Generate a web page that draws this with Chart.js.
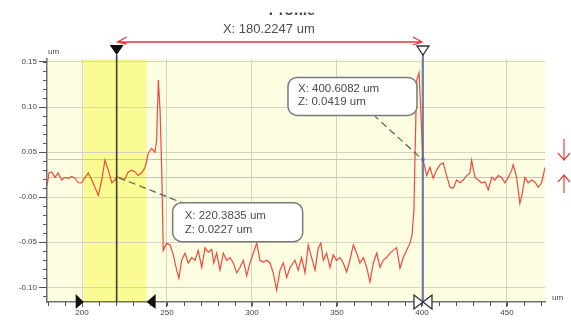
<!DOCTYPE html>
<html>
<head>
<meta charset="utf-8">
<script src="https://cdn.jsdelivr.net/npm/chart.js@4/dist/chart.umd.min.js"></script>
<style>
  html, body { margin: 0; padding: 0; background: #fff; }
  #wrap { width: 571px; height: 320px; }
</style>
</head>
<body>
<div id="wrap"><canvas id="profil" width="571" height="320"></canvas></div>
<script>
// posição lateral (um) e altura (um)
const posX = [179.5, 180.5, 182.2, 184.1, 185.9, 188.1, 190, 191.9, 193.9, 195.9, 197.8, 199.8,
  201.8, 203.7, 205.7, 207.6, 209.6, 211.6, 213.5, 215.5, 217.5, 219.4, 220.4, 222.9, 224.9,
  227.2, 229.2, 231.2, 233.1, 235.1, 237.1, 239, 241, 242.9, 243.9, 244.9, 245.9, 246.9,
  247.8, 249.8, 251.8, 253.7, 255.7, 257, 258.6, 260.6, 262.5, 264.5, 266.5, 268.4, 270.4,
  272.4, 274.3, 276.3, 277.5, 279.2, 281.2, 283.1, 285.1, 287.1, 289, 291, 292.9, 294.9,
  296.9, 298.8, 300.8, 302.8, 304.7, 306.6, 308.6, 310.6, 312.5, 314.5, 316.5, 318.4, 320.4,
  322.4, 325.3, 327.2, 329.2, 331.2, 333.1, 335.1, 337.1, 339, 340.5, 342, 343.9, 345.9,
  347.8, 349.8, 351.8, 353.7, 355.7, 357.6, 359.6, 361.6, 363.5, 365.5, 367.5, 369.4, 371.4,
  373.4, 375.3, 377.2, 379.2, 381.2, 383.1, 385.1, 387.1, 389, 391, 392.9, 394.1, 395.3,
  395.9, 396.9, 398.3, 400.6, 402.8, 404.7, 406.6, 408.6, 410.6, 412.5, 414.5, 416.5, 418.4,
  420.4, 422.4, 424.3, 426.3, 428.2, 429.2, 431.2, 433.1, 435.1, 437.1, 439, 441, 442.9,
  444.9, 446.9, 448.8, 450.8, 452.8, 453.7, 455.7, 457.6, 458.6, 460.6, 462.5, 464.5, 466.5,
  468.4, 470.4, 472.4];
const altZ = [0.013, 0.027, 0.028, 0.022, 0.027, 0.019, 0.022, 0.021, 0.023, 0.021, 0.016, 0.016,
  0.022, 0.027, 0.019, 0.011, 0.002, 0.019, 0.041, 0.030, 0.016, 0.019, 0.0227, 0.021, 0.019,
  0.028, 0.030, 0.028, 0.024, 0.027, 0.033, 0.049, 0.054, 0.050, 0.063, 0.130, 0.097, 0.030,
  -0.059, -0.051, -0.053, -0.064, -0.081, -0.090, -0.070, -0.062, -0.073, -0.067, -0.070, -0.059, -0.078,
  -0.056, -0.061, -0.058, -0.073, -0.062, -0.081, -0.062, -0.070, -0.067, -0.073, -0.084, -0.078, -0.070,
  -0.087, -0.073, -0.062, -0.051, -0.070, -0.072, -0.070, -0.073, -0.084, -0.103, -0.081, -0.073, -0.089,
  -0.078, -0.070, -0.081, -0.067, -0.084, -0.053, -0.067, -0.081, -0.056, -0.051, -0.070, -0.062, -0.078,
  -0.064, -0.070, -0.067, -0.073, -0.083, -0.070, -0.053, -0.062, -0.073, -0.067, -0.078, -0.094, -0.073,
  -0.062, -0.078, -0.070, -0.067, -0.062, -0.059, -0.056, -0.079, -0.067, -0.059, -0.051, -0.043, -0.014,
  0.044, 0.130, 0.138, 0.0419, 0.024, 0.033, 0.021, 0.030, 0.036, 0.038, 0.024, 0.011, 0.010,
  0.019, 0.016, 0.019, 0.024, 0.027, 0.041, 0.022, 0.019, 0.016, 0.017, 0.008, 0.022, 0.019,
  0.024, 0.022, 0.016, 0.022, 0.030, 0.036, 0.022, -0.007, 0.000, 0.022, 0.016, 0.019, 0.017,
  0.011, 0.016, 0.033];

// eixos
const xTicks = [200, 250, 300, 350, 400, 450];
const yTicks = [0.15, 0.10, 0.05, 0, -0.05, -0.10];
const yTickLabels = ['0.15', '0.10', '0.05', '-0.00', '-0.05', '-0.10'];

// cursores e faixa destacada
const cursorX = [220.3835, 400.6082];
const cursorZ = [0.0227, 0.0419];
const distanciaX = '180.2247';
const faixa = [201, 238];

const corLinha = '#f04a3c';
const corGrade = '#d4d4c0';
const corFundo = '#fdfde2';
const corFaixa = '#fbfb93';
const fonte = '"Liberation Sans", Arial, sans-serif';

const fundoPlugin = {
    id: 'fundo',
    beforeDraw(chart) {
        const { ctx, chartArea: a, scales: { x } } = chart;
        ctx.save();
        ctx.fillStyle = corFundo;
        ctx.fillRect(a.left, a.top, a.right - a.left, a.bottom - a.top);
        ctx.fillStyle = corFaixa;
        const f0 = x.getPixelForValue(faixa[0]);
        const f1 = x.getPixelForValue(faixa[1]);
        ctx.fillRect(f0, a.top, f1 - f0, a.bottom - a.top);
        ctx.restore();
    },
    beforeDatasetsDraw(chart) {
        const { ctx, chartArea: a, scales: { y } } = chart;
        ctx.save();
        ctx.strokeStyle = '#c4c4b4';
        ctx.lineWidth = 1;
        cursorZ.forEach(z => {
            const py = Math.round(y.getPixelForValue(z)) + 0.5;
            ctx.beginPath();
            ctx.moveTo(a.left, py);
            ctx.lineTo(a.right, py);
            ctx.stroke();
        });
        ctx.restore();
    }
};

function triangulo(ctx, pts, cheio) {
    ctx.beginPath();
    ctx.moveTo(pts[0][0], pts[0][1]);
    for (let i = 1; i < pts.length; i++) ctx.lineTo(pts[i][0], pts[i][1]);
    ctx.closePath();
    if (cheio) { ctx.fillStyle = '#111'; ctx.fill(); }
    else { ctx.fillStyle = '#fff'; ctx.fill(); ctx.strokeStyle = '#333'; ctx.lineWidth = 1.3; ctx.stroke(); }
}

function caixa(ctx, x, y, w, h, r) {
    ctx.beginPath();
    ctx.moveTo(x + r, y);
    ctx.arcTo(x + w, y, x + w, y + h, r);
    ctx.arcTo(x + w, y + h, x, y + h, r);
    ctx.arcTo(x, y + h, x, y, r);
    ctx.arcTo(x, y, x + w, y, r);
    ctx.closePath();
    ctx.fillStyle = '#fff';
    ctx.fill();
    ctx.strokeStyle = '#7a7a7a';
    ctx.lineWidth = 1.5;
    ctx.stroke();
}

const anotacoesPlugin = {
    id: 'anotacoes',
    afterDraw(chart) {
        const { ctx, chartArea: a, scales: { x, y } } = chart;
        ctx.save();

        // ticks menores
        ctx.strokeStyle = '#555';
        ctx.lineWidth = 1;
        for (let v = -11; v <= 15; v++) {
            const py = Math.round(y.getPixelForValue(v / 100)) + 0.5;
            ctx.beginPath();
            ctx.moveTo(a.left - 4, py);
            ctx.lineTo(a.left, py);
            ctx.stroke();
        }
        for (let v = 180; v <= 470; v += 10) {
            const px = Math.round(x.getPixelForValue(v)) + 0.5;
            ctx.beginPath();
            ctx.moveTo(px, a.bottom);
            ctx.lineTo(px, a.bottom + 4);
            ctx.stroke();
        }

        // cursores
        const c1 = x.getPixelForValue(cursorX[0]);
        const c2 = x.getPixelForValue(cursorX[1]);
        ctx.lineWidth = 1.6;
        ctx.strokeStyle = '#3c3c3c';
        ctx.beginPath(); ctx.moveTo(c1, a.top - 4); ctx.lineTo(c1, a.bottom); ctx.stroke();
        ctx.strokeStyle = '#5464a4';
        ctx.beginPath(); ctx.moveTo(c2, a.top - 4); ctx.lineTo(c2, a.bottom); ctx.stroke();

        // triângulos de cima
        triangulo(ctx, [[c1 - 7, 45], [c1 + 7, 45], [c1, 55]], true);
        triangulo(ctx, [[c2 - 6, 46], [c2 + 6, 46], [c2, 55]], false);

        // triângulos de baixo (faixa e cursor 2)
        const f0 = x.getPixelForValue(faixa[0]);
        const f1 = x.getPixelForValue(faixa[1]);
        triangulo(ctx, [[f0 - 8, a.bottom - 8], [f0 - 8, a.bottom + 7], [f0, a.bottom]], true);
        triangulo(ctx, [[f1 + 9, a.bottom - 8], [f1 + 9, a.bottom + 7], [f1, a.bottom]], true);
        triangulo(ctx, [[c2 - 9, a.bottom - 7], [c2 - 9, a.bottom + 7], [c2, a.bottom]], false);
        triangulo(ctx, [[c2 + 9, a.bottom - 7], [c2 + 9, a.bottom + 7], [c2, a.bottom]], false);

        // seta de distância
        ctx.strokeStyle = '#e23a36';
        ctx.lineWidth = 1.3;
        ctx.beginPath();
        ctx.moveTo(c1 + 1, 42); ctx.lineTo(c2 - 1, 42);
        ctx.moveTo(c1 + 10, 37); ctx.lineTo(c1 + 1, 42); ctx.lineTo(c1 + 10, 44);
        ctx.moveTo(c2 - 10, 37); ctx.lineTo(c2 - 1, 42); ctx.lineTo(c2 - 10, 45);
        ctx.stroke();

        ctx.fillStyle = '#4c4c4c';
        ctx.font = '13px ' + fonte;
        ctx.textAlign = 'center';
        ctx.textBaseline = 'middle';
        ctx.fillText('X: ' + distanciaX + ' um', (c1 + c2) / 2 - 1, 29);

        // título cortado no topo
        ctx.save();
        ctx.beginPath(); ctx.rect(0, 12.5, 571, 3); ctx.clip();
        ctx.font = 'bold 15px ' + fonte;
        ctx.fillStyle = '#444';
        ctx.textBaseline = 'alphabetic';
        ctx.fillText('Profile', 292, 15);
        ctx.restore();

        // linhas tracejadas das etiquetas
        const p1 = [c1, y.getPixelForValue(cursorZ[0])];
        const p2 = [c2, y.getPixelForValue(cursorZ[1])];
        ctx.setLineDash([7, 4]);
        ctx.strokeStyle = '#56604e';
        ctx.lineWidth = 1.2;
        ctx.beginPath();
        ctx.moveTo(p1[0] + 2, p1[1] + 1); ctx.lineTo(p1[0] + 68, p1[1] + 27);
        ctx.moveTo(p2[0] - 4, p2[1] - 3); ctx.lineTo(p2[0] - 48, p2[1] - 43);
        ctx.stroke();
        ctx.setLineDash([]);

        // etiquetas
        caixa(ctx, p2[0] - 135, p2[1] - 82, 129, 38, 9);
        caixa(ctx, p1[0] + 56, p1[1] + 26, 130, 39, 9);
        ctx.fillStyle = '#4a4a4a';
        ctx.font = '11.5px ' + fonte;
        ctx.textAlign = 'left';
        ctx.fillText('X: ' + cursorX[1].toFixed(4) + ' um', p2[0] - 125, p2[1] - 71);
        ctx.fillText('Z: ' + cursorZ[1].toFixed(4) + ' um', p2[0] - 125, p2[1] - 58);
        ctx.fillText('X: ' + cursorX[0].toFixed(4) + ' um', p1[0] + 68, p1[1] + 39);
        ctx.fillText('Z: ' + cursorZ[0].toFixed(4) + ' um', p1[0] + 68, p1[1] + 53);

        // marcador do ponto do cursor 2
        ctx.fillStyle = '#5464a4';
        ctx.fillRect(p2[0] - 1.5, p2[1] - 1.5, 3, 3);

        // unidades
        ctx.fillStyle = '#444';
        ctx.font = '8px ' + fonte;
        ctx.fillText('um', a.left + 1, a.top - 7);
        ctx.fillText('um', a.right + 7, a.bottom - 4);

        // setas vermelhas à direita
        ctx.strokeStyle = '#e2463e';
        ctx.lineWidth = 1.2;
        ctx.beginPath();
        ctx.moveTo(564, 139); ctx.lineTo(564, 160);
        ctx.moveTo(558, 153); ctx.lineTo(564, 160); ctx.lineTo(570, 153);
        ctx.moveTo(564, 193); ctx.lineTo(564, 175);
        ctx.moveTo(558, 182); ctx.lineTo(564, 175); ctx.lineTo(570, 182);
        ctx.stroke();

        ctx.restore();
    }
};

new Chart(document.getElementById('profil'), {
    type: 'line',
    data: {
        datasets: [{
            data: posX.map((v, i) => ({ x: v, y: altZ[i] })),
            borderColor: corLinha,
            borderWidth: 1.2,
            pointRadius: 0,
            tension: 0
        }]
    },
    options: {
        responsive: false,
        animation: false,
        events: [],
        layout: { padding: { top: 59, right: 26, left: 0, bottom: 0 } },
        plugins: { legend: { display: false }, tooltip: { enabled: false } },
        scales: {
            x: {
                type: 'linear',
                min: 179.4,
                max: 472.4,
                afterBuildTicks: s => { s.ticks = xTicks.map(v => ({ value: v })); },
                afterFit: s => { s.height = 18; },
                ticks: { color: '#444', font: { size: 8, family: fonte }, padding: 1, maxRotation: 0,
                    callback: v => String(v) },
                grid: { color: corGrade, tickColor: '#555', tickLength: 5 },
                border: { color: '#707070', width: 1.5 }
            },
            y: {
                min: -0.1163,
                max: 0.1533,
                afterBuildTicks: s => { s.ticks = yTicks.map(v => ({ value: v })); },
                afterFit: s => { s.width = 47; },
                ticks: { color: '#444', font: { size: 8, family: fonte }, padding: 2,
                    callback: v => yTickLabels[yTicks.findIndex(t => Math.abs(t - v) < 1e-9)] },
                grid: { color: corGrade, tickColor: '#555', tickLength: 8 },
                border: { color: '#707070', width: 1.5 }
            }
        }
    },
    plugins: [fundoPlugin, anotacoesPlugin]
});
</script>
</body>
</html>
